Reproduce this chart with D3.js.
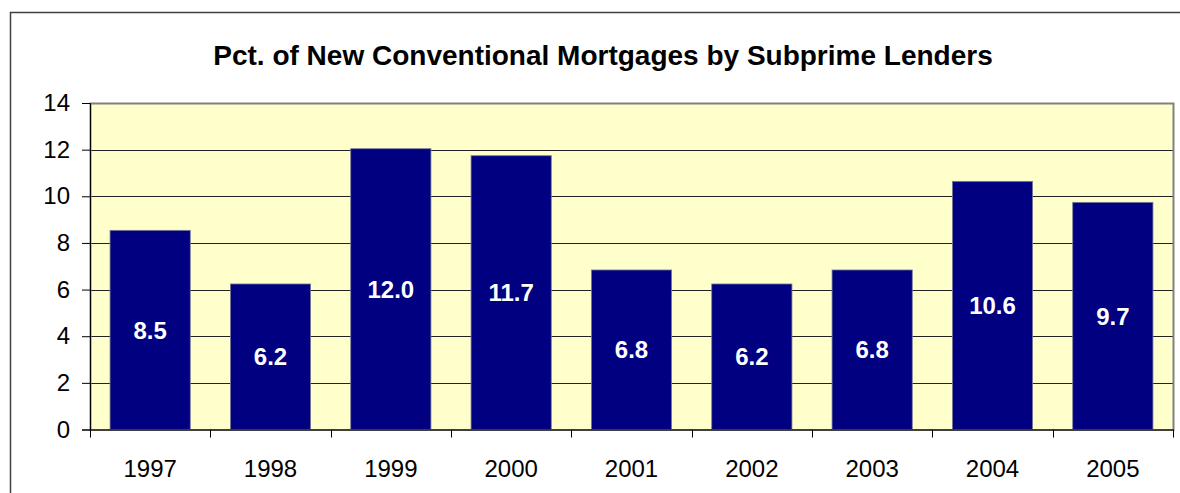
<!DOCTYPE html>
<html>
<head>
<meta charset="utf-8">
<script src="https://cdn.jsdelivr.net/npm/d3@7"></script>
<style>
	body { margin: 0; background: #fff; }
	text { font-family: "Liberation Sans", Arial, sans-serif; }
</style>
</head>
<body>
<svg id="chart" width="1180" height="493"></svg>
<script>
// values
const years = ["1997", "1998", "1999", "2000", "2001", "2002", "2003", "2004", "2005"];
const pctSubprime = [8.54, 6.24, 12.04, 11.74, 6.84, 6.24, 6.84, 10.64, 9.74];
const yTicks = [0, 2, 4, 6, 8, 10, 12, 14];
const title = "Pct. of New Conventional Mortgages by Subprime Lenders";

const svg = d3.select("#chart");

const plot = { left: 90, top: 103, right: 1173, bottom: 429.5 };

// outer chart border
svg.append("rect")
	.attr("x", 10.5)
	.attr("y", 12.5)
	.attr("width", 1200)
	.attr("height", 500)
	.attr("fill", "#fff")
	.attr("stroke", "#404040")
	.attr("stroke-width", 1.5);

svg.append("text")
	.attr("x", 603)
	.attr("y", 64.5)
	.attr("text-anchor", "middle")
	.attr("font-size", 28)
	.attr("font-weight", "bold")
	.text(title);

const x = d3.scaleBand()
	.domain(years)
	.range([plot.left, plot.right])
	.paddingInner(1 / 3)
	.paddingOuter(1 / 6);

const y = d3.scaleLinear()
	.domain([0, 14])
	.range([plot.bottom, plot.top]);

// plot area
svg.append("rect")
	.attr("x", plot.left)
	.attr("y", plot.top)
	.attr("width", plot.right - plot.left)
	.attr("height", plot.bottom - plot.top)
	.attr("fill", "#ffffcc");

svg.append("g")
	.attr("class", "grid")
	.selectAll("line")
	.data(yTicks.filter(d => d > 0 && d < 14))
	.enter()
	.append("line")
	.attr("x1", plot.left)
	.attr("x2", plot.right)
	.attr("y1", d => Math.round(y(d)) + 0.5)
	.attr("y2", d => Math.round(y(d)) + 0.5)
	.attr("stroke", "#222")
	.attr("stroke-width", 1);

svg.append("rect")
	.attr("x", plot.left + 0.5)
	.attr("y", plot.top + 0.5)
	.attr("width", plot.right - plot.left)
	.attr("height", plot.bottom - plot.top)
	.attr("fill", "none")
	.attr("stroke", "#808080")
	.attr("stroke-width", 2);

svg.append("g")
	.selectAll("rect")
	.data(years.map((yr, i) => ({ yr: yr, v: pctSubprime[i] })))
	.enter()
	.append("rect")
	.attr("x", d => x(d.yr))
	.attr("y", d => y(d.v))
	.attr("width", x.bandwidth())
	.attr("height", d => plot.bottom - y(d.v))
	.attr("fill", "#000080")
	.attr("stroke", "#7a7a9a")
	.attr("stroke-width", 0.8);

svg.append("g")
	.selectAll("text")
	.data(years.map((yr, i) => ({ yr: yr, v: pctSubprime[i] })))
	.enter()
	.append("text")
	.attr("x", d => x(d.yr) + x.bandwidth() / 2)
	.attr("y", d => (y(d.v) + plot.bottom) / 2)
	.attr("dy", "0.36em")
	.attr("text-anchor", "middle")
	.attr("font-size", 24)
	.attr("font-weight", "bold")
	.attr("fill", "#fff")
	.text(d => d3.format(".1f")(d.v));

// y axis
const yAxis = svg.append("g")
	.attr("transform", "translate(" + plot.left + ",0)")
	.call(d3.axisLeft(y).tickValues(yTicks).tickSize(8).tickPadding(12).tickFormat(d3.format("d")));

// x axis, ticks sit between categories
const step = x.step();
const xAxis = svg.append("g")
	.attr("transform", "translate(0," + plot.bottom + ")")
	.call(d3.axisBottom(x).tickSize(0).tickPadding(30));

xAxis.selectAll(".sep")
	.data(d3.range(years.length + 1))
	.enter()
	.append("line")
	.attr("class", "sep")
	.attr("x1", i => Math.round(plot.left + i * step) + 0.5)
	.attr("x2", i => Math.round(plot.left + i * step) + 0.5)
	.attr("y1", 0)
	.attr("y2", 8)
	.attr("stroke", "#000");

[yAxis, xAxis].forEach(g => {
	g.select(".domain").attr("stroke", "#000");
	g.selectAll(".tick line").attr("stroke", "#000");
	g.selectAll(".tick text")
		.attr("font-size", 24)
		.attr("font-family", "Liberation Sans, Arial, sans-serif")
		.attr("fill", "#000");
});
</script>
</body>
</html>
